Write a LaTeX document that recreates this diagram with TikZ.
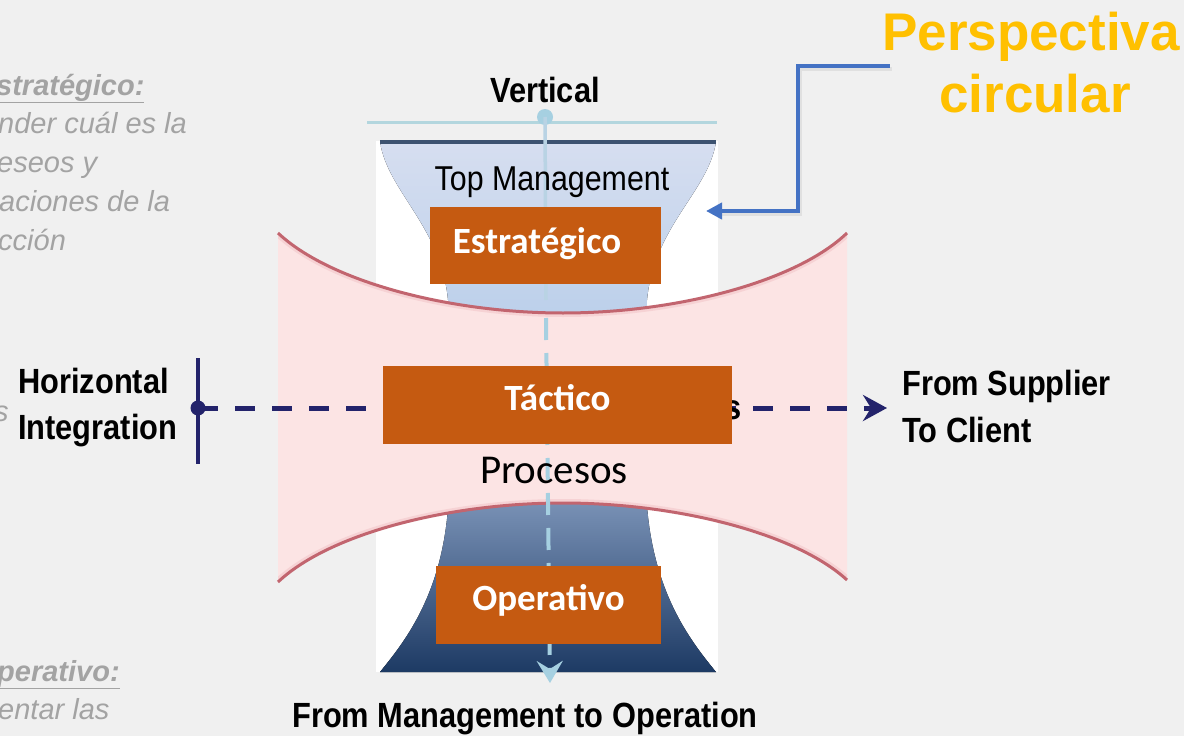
\documentclass[tikz,border=0pt]{standalone}
\usepackage{fontspec}
\setmainfont{Liberation Sans}
\newfontfamily\narrowfont[FakeStretch=0.88]{Liberation Sans}
\newfontfamily\calfont{Carlito}
\usetikzlibrary{arrows.meta}
\definecolor{bggray}{HTML}{F0F0F0}
\definecolor{lefttxtcol}{HTML}{A3A3A3}
\definecolor{tfTop}{HTML}{D6DEF0}
\definecolor{tfBot}{HTML}{BACFEA}
\definecolor{bfTop}{HTML}{7F97BB}
\definecolor{bfBot}{HTML}{1D3A64}
\definecolor{pinkfill}{HTML}{FCE4E4}
\definecolor{pinkedge}{HTML}{C2656F}
\definecolor{pinkglow}{HTML}{F6D2D4}
\definecolor{vblue}{HTML}{A6D0E1}
\definecolor{vbluefaint}{HTML}{B9D3E4}
\definecolor{tealline}{HTML}{B3D6DE}
\definecolor{darkline}{HTML}{3C5270}
\definecolor{navyarrow}{HTML}{23236B}
\definecolor{orangebox}{HTML}{C55A11}
\definecolor{connblue}{HTML}{4472C4}
\definecolor{goldtxt}{HTML}{FFC000}
\tikzset{
  lefttxt/.style={inner sep=0pt, anchor=base west, text=lefttxtcol, font=\fontsize{29}{34}\selectfont\itshape},
  diaglabel/.style={inner sep=0pt, font=\narrowfont\bfseries\fontsize{35}{45}\selectfont},
  obox/.style={fill=orangebox, draw=none, inner sep=0pt},
  otext/.style={inner sep=0pt, anchor=base, text=white, font=\calfont\bfseries\fontsize{37}{40}\selectfont},
  vline/.style={draw=vblue, line width=4pt},
  hline/.style={draw=navyarrow, line width=5pt},
  connline/.style={draw=connblue, line width=4pt, line join=miter},
}
\begin{document}
\begin{tikzpicture}[x=1pt,y=-1pt]
\useasboundingbox (0,0) rectangle (1184,736);
\clip (0,0) rectangle (1184,736);
\fill[bggray] (0,0) rectangle (1184,736);

% left gray texts (cut by the page edge)
\node[lefttxt] (l1) at (-4,95) {\bfseries\underline{stratégico:}};
\node[lefttxt] (l2) at (-2,133) {nder cuál es la};
\node[lefttxt] (l3) at (-3,172) {eseos y};
\node[lefttxt] (l4) at (-1,211) {aciones de la};
\node[lefttxt] (l5) at (-2,250) {cción};
\node[lefttxt] (l6) at (-6,421) {s};
\node[lefttxt] (l7) at (-3,681) {\bfseries\underline{perativo:}};
\node[lefttxt] (l8) at (-2,719) {entar las};

% white panel
\fill[white] (376,141) rectangle (718,672);

% top funnel
\fill[top color=tfTop, bottom color=tfBot] (380,142) -- (716,142)
  .. controls (708,192) and (654,226) .. (647,300) -- (646,330) -- (449,330) -- (448,300)
  .. controls (441,226) and (388,192) .. (380,142) -- cycle;
% bottom funnel
\fill[top color=bfTop, bottom color=bfBot] (449,490) -- (646,490)
  .. controls (650,590) and (690,640) .. (716,672) -- (380,672)
  .. controls (406,640) and (446,590) .. (449,490) -- cycle;

% top lines
\coordinate (vtop) at (545,117);
\draw[tealline, line width=3pt] (367,122) -- (717,122);
\fill[vblue] (vtop) circle (8);
\draw[darkline, line width=3.5pt] (380,142) -- (716,142);

% pink band
\fill[pinkfill] (278,233) .. controls (330,282) and (450,313) .. (563,313)
  .. controls (676,313) and (796,282) .. (847,233) -- (847,580)
  .. controls (796,533) and (676,503) .. (563,503)
  .. controls (450,503) and (330,533) .. (278,582) -- cycle;
\begin{scope}
\clip (278,233) .. controls (330,282) and (450,313) .. (563,313)
  .. controls (676,313) and (796,282) .. (847,233) -- (847,580)
  .. controls (796,533) and (676,503) .. (563,503)
  .. controls (450,503) and (330,533) .. (278,582) -- cycle;
\draw[pinkglow, line width=8pt] (278,233) .. controls (330,282) and (450,313) .. (563,313)
  .. controls (676,313) and (796,282) .. (847,233);
\draw[pinkglow, line width=8pt] (278,582) .. controls (330,533) and (450,503) .. (563,503)
  .. controls (676,503) and (796,533) .. (847,580);
\end{scope}
\draw[pinkedge, line width=3pt] (278,233) .. controls (330,282) and (450,313) .. (563,313)
  .. controls (676,313) and (796,282) .. (847,233);
\draw[pinkedge, line width=3pt] (278,582) .. controls (330,533) and (450,503) .. (563,503)
  .. controls (676,503) and (796,533) .. (847,580);

% vertical arrow
\coordinate (vmid) at (546,318);
\coordinate (vbot) at (550,683);
\draw[draw=vbluefaint, line width=3.5pt] (vtop) -- (546,300);
\draw[vline, dash pattern=on 22pt off 13pt, -{Stealth[length=22pt,width=26pt,inset=8pt]}] (vmid) -- (vbot);

% horizontal integration
\coordinate (htop) at (198,358);
\coordinate (hbot) at (198,464);
\coordinate (hstart) at (198,408);
\coordinate (hend) at (887,408);
\draw[navyarrow, line width=4pt] (htop) -- (hbot);
\fill[navyarrow] (hstart) circle (7.5);
\draw[hline, dash pattern=on 20pt off 17pt, -{Stealth[length=24pt,width=26pt,inset=8pt]}] (hstart) -- (hend);

% labels
\node[diaglabel, anchor=base] (vert) at (545,102) {Vertical};
\node[inner sep=0pt, anchor=base, font=\narrowfont\fontsize{34.5}{40}\selectfont] (topm) at (552,190) {Top Management};
\node[diaglabel, anchor=base west, align=left] (horiz) at (18,393) {Horizontal};
\node[diaglabel, anchor=base west, align=left] (integ) at (18,439) {Integration};
\node[diaglabel, anchor=base west] (supp) at (902,395) {From Supplier};
\node[diaglabel, anchor=base west] (clien) at (902,442) {To Client};
\node[diaglabel, anchor=base] (mgmt) at (525,727) {From Management to Operation};
\node[diaglabel, anchor=base west] (hiddens) at (724,419) {s};
\node[inner sep=0pt, anchor=base, font=\calfont\fontsize{41}{44}\selectfont] (proc) at (554,483) {Procesos};

% orange boxes
\node[obox, minimum width=231pt, minimum height=77pt] (est) at (545.5,245.5) {};
\node[otext] (estt) at (537,253) {Estratégico};
\node[obox, minimum width=349pt, minimum height=78pt] (tac) at (557.5,405) {};
\node[otext] (tact) at (557.5,410) {Táctico};
\node[obox, minimum width=225pt, minimum height=78pt] (ope) at (548.5,605) {};
\node[otext] (opet) at (548.5,610) {Operativo};

% perspectiva circular
\node[inner sep=0pt, anchor=base, text=goldtxt, font=\bfseries\fontsize{53}{62}\selectfont] (persp) at (1031,50) {Perspectiva};
\node[inner sep=0pt, anchor=base, text=goldtxt, font=\bfseries\fontsize{53}{62}\selectfont] (circ) at (1035,112) {circular};
\coordinate (cstart) at (890,66);
\coordinate (cend) at (706,211);
\draw[black!12, line width=4pt, line join=miter] ([shift={(1.5,2.5)}]cstart) -- (799.5,68.5) -- (799.5,213.5) -- (722,213.5);
\draw[connline, -{Triangle[length=16pt,width=16pt]}] (cstart) -| (798,211) -- (cend);
\end{tikzpicture}
\end{document}
